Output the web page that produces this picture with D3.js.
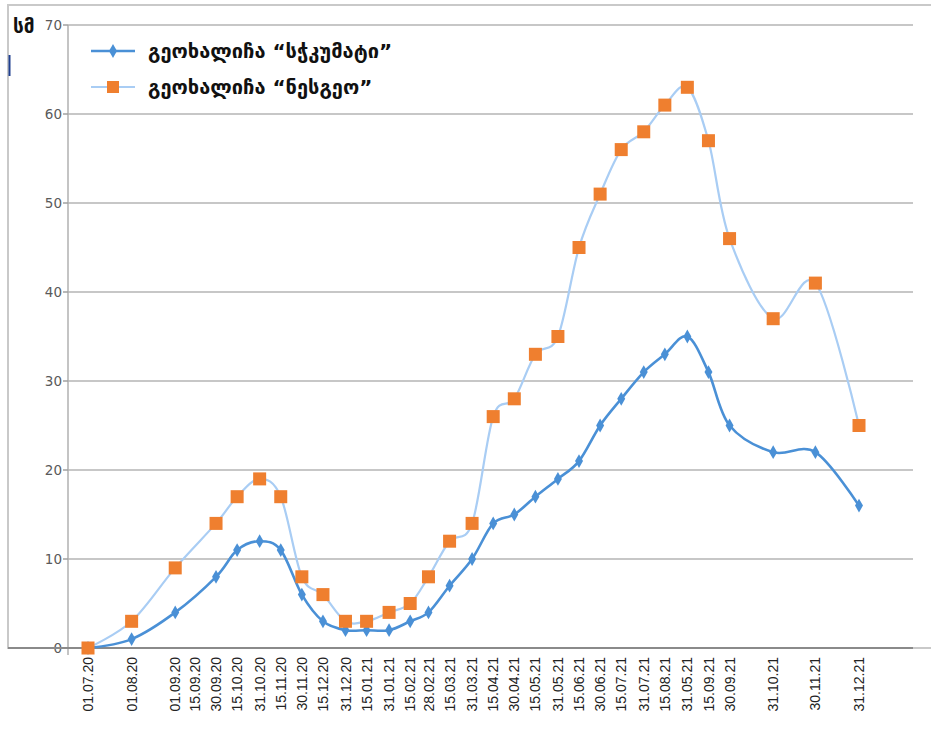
<!DOCTYPE html>
<html>
<head>
<meta charset="utf-8">
<script src="https://cdn.jsdelivr.net/npm/d3@7"></script>
<style>
  html, body { margin: 0; padding: 0; background: #fff; }
  svg { display: block; }
</style>
</head>
<body>
<svg id="chart" width="931" height="731"></svg>
<script>
// ---- data ----
const dates = ["01.07.20","01.08.20","01.09.20","30.09.20","15.10.20","31.10.20","15.11.20","30.11.20","15.12.20","31.12.20",
  "15.01.21","31.01.21","15.02.21","28.02.21","15.03.21","31.03.21","15.04.21","30.04.21","15.05.21","31.05.21",
  "15.06.21","30.06.21","15.07.21","31.07.21","15.08.21","31.08.21","15.09.21","30.09.21","31.10.21","30.11.21","31.12.21"];
const seriesSkumati = [0,1,4,8,11,12,11,6,3,2,2,2,3,4,7,10,14,15,17,19,21,25,28,31,33,35,31,25,22,22,16];
const seriesNesgeo  = [0,3,9,14,17,19,17,8,6,3,3,4,5,8,12,14,26,28,33,35,45,51,56,58,61,63,57,46,37,41,25];
// tick labels as printed, and the dates they stand for
const tickLabels = ["01.07.20","01.08.20","01.09.20","15.09.20","30.09.20","15.10.20","31.10.20","15.11.20","30.11.20","15.12.20",
  "31.12.20","15.01.21","31.01.21","15.02.21","28.02.21","15.03.21","31.03.21","15.04.21","30.04.21","15.05.21","31.05.21",
  "15.06.21","30.06.21","15.07.21","31.07.21","15.08.21","31.05.21","15.09.21","30.09.21","31.10.21","30.11.21","31.12.21"];
const tickDates = ["01.07.20","01.08.20","01.09.20","15.09.20","30.09.20","15.10.20","31.10.20","15.11.20","30.11.20","15.12.20",
  "31.12.20","15.01.21","31.01.21","15.02.21","28.02.21","15.03.21","31.03.21","15.04.21","30.04.21","15.05.21","31.05.21",
  "15.06.21","30.06.21","15.07.21","31.07.21","15.08.21","31.08.21","15.09.21","30.09.21","31.10.21","30.11.21","31.12.21"];
const yTicks = [0,10,20,30,40,50,60,70];
const legendNames = ["გეოხალიჩა “სჭკუმატი”", "გეოხალიჩა “ნესგეო”"];
const yUnit = "სმ";

// ---- setup ----
const parse = d3.timeParse("%d.%m.%y");
const svg = d3.select("#chart");
const W = 931, H = 731;
const axisX = 68, plotRight = 913;
const x = d3.scaleTime()
  .domain([parse("01.07.20"), parse("31.12.21")])
  .range([88, 859]);
const y = d3.scaleLinear().domain([0, 70]).range([648, 25]);

// outer frame
svg.append("path")
  .attr("d", `M${W},5 H8 V${y(0)} H${W}`)
  .attr("fill", "none").attr("stroke", "#c9c9c9").attr("stroke-width", 2);
// small mark at left
svg.append("line").attr("x1", 9.5).attr("x2", 9.5).attr("y1", 55).attr("y2", 76)
  .attr("stroke", "#1f3f8f").attr("stroke-width", 2);

// gridlines
svg.append("g").selectAll("line").data(yTicks.filter(d => d > 0)).join("line")
  .attr("x1", axisX).attr("x2", plotRight)
  .attr("y1", d => y(d)).attr("y2", d => y(d))
  .attr("stroke", "#b4b4b4").attr("stroke-width", 1.6);

// y axis line + ticks
svg.append("line").attr("x1", axisX).attr("x2", axisX).attr("y1", y(70)).attr("y2", y(0) + 7)
  .attr("stroke", "#b0b0b0").attr("stroke-width", 1.5);
svg.append("g").selectAll("line").data(yTicks).join("line")
  .attr("x1", axisX - 5).attr("x2", axisX)
  .attr("y1", d => y(d)).attr("y2", d => y(d))
  .attr("stroke", "#a0a0a0").attr("stroke-width", 1.5);
svg.append("g").selectAll("text").data(yTicks).join("text")
  .attr("x", axisX - 6).attr("y", d => y(d)).attr("dy", "0.36em")
  .attr("text-anchor", "end")
  .attr("font-family", "DejaVu Sans, Verdana, sans-serif").attr("font-size", 13.5)
  .attr("fill", "#5a5a5a")
  .text(d => d);

// x axis line
svg.append("line").attr("x1", 8).attr("x2", plotRight).attr("y1", y(0)).attr("y2", y(0))
  .attr("stroke", "#8a8a8a").attr("stroke-width", 2);

// unit label
svg.append("text").attr("x", 13).attr("y", 33)
  .attr("font-family", "DejaVu Sans, sans-serif").attr("font-size", 19).attr("font-weight", "bold")
  .attr("fill", "#111").text(yUnit);

// x tick labels
svg.append("g").selectAll("text").data(tickLabels).join("text")
  .attr("transform", (d, i) => `translate(${x(parse(tickDates[i]))},${y(0) + 9}) rotate(-90)`)
  .attr("text-anchor", "end").attr("dy", "0.36em")
  .attr("font-family", "Liberation Sans, Arial, sans-serif").attr("font-size", 14)
  .attr("fill", "#222")
  .text(d => d);

// lines
const rows = dates.map((d, i) => ({ date: parse(d), a: seriesSkumati[i], b: seriesNesgeo[i] }));
const lineA = d3.line().x(d => x(d.date)).y(d => y(d.a)).curve(d3.curveCardinal.tension(0));
const lineB = d3.line().x(d => x(d.date)).y(d => y(d.b)).curve(d3.curveCardinal.tension(0));

const colA = "#4a90d6", colBLine = "#a9cdf4", colBMark = "#ef7f2f";

svg.append("path").datum(rows).attr("d", lineB)
  .attr("fill", "none").attr("stroke", colBLine).attr("stroke-width", 2.2);
svg.append("path").datum(rows).attr("d", lineA)
  .attr("fill", "none").attr("stroke", colA).attr("stroke-width", 2.6);

// markers
const diamond = d3.symbol().type(d3.symbolDiamond).size(55);
svg.append("g").selectAll("path").data(rows).join("path")
  .attr("transform", d => `translate(${x(d.date)},${y(d.a)})`)
  .attr("d", diamond).attr("fill", colA);
svg.append("g").selectAll("rect").data(rows).join("rect")
  .attr("x", d => x(d.date) - 6.5).attr("y", d => y(d.b) - 6.5)
  .attr("width", 13).attr("height", 13)
  .attr("fill", colBMark);

// legend
const lg = svg.append("g");
lg.append("line").attr("x1", 91).attr("x2", 135).attr("y1", 51).attr("y2", 51)
  .attr("stroke", colA).attr("stroke-width", 2.6);
lg.append("path").attr("transform", "translate(113,51)").attr("d", diamond).attr("fill", colA);
lg.append("line").attr("x1", 91).attr("x2", 135).attr("y1", 87).attr("y2", 87)
  .attr("stroke", colBLine).attr("stroke-width", 2.2);
lg.append("rect").attr("x", 107).attr("y", 81).attr("width", 12).attr("height", 12).attr("fill", colBMark);
lg.selectAll("text").data(legendNames).join("text")
  .attr("x", 148).attr("y", (d, i) => 51 + i * 36).attr("dy", "0.36em")
  .attr("font-family", "DejaVu Sans, sans-serif").attr("font-size", 20).attr("font-weight", "bold")
  .attr("fill", "#111")
  .text(d => d);
</script>
</body>
</html>
